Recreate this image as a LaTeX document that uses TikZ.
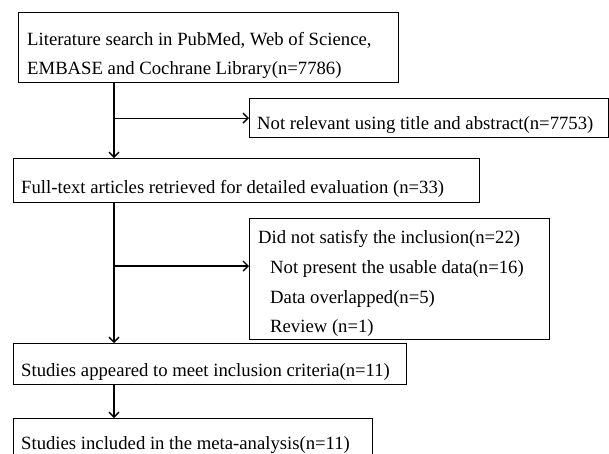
\documentclass[tikz,border=0pt]{standalone}
\usepackage{fontspec}
\setmainfont{Liberation Serif}
\usetikzlibrary{arrows.meta}

\tikzset{
  box/.style={draw, line width=1.4pt, rectangle, anchor=north west, inner sep=0pt},
  txt/.style={anchor=base west, inner sep=0pt, font=\fontsize{18.7}{22}\selectfont},
  flow/.style={line width=1.4pt, -{Straight Barb[length=5pt,width=10pt,line width=1.4pt]}}
}

\begin{document}
\begin{tikzpicture}[x=1pt,y=1pt,yscale=-1,xscale=1]
  \useasboundingbox (0,0) rectangle (609,453);

  %Shape: Rectangle (search)
  \node [box, minimum width=380pt, minimum height=70pt] (search) at (18,12) {};
  %Shape: Rectangle (not relevant)
  \node [box, minimum width=359pt, minimum height=39pt] (notrel) at (249,98) {};
  %Shape: Rectangle (full text)
  \node [box, minimum width=466pt, minimum height=44pt] (fulltext) at (13,158) {};
  %Shape: Rectangle (excluded)
  \node [box, minimum width=300pt, minimum height=121pt] (excl) at (249,218) {};
  %Shape: Rectangle (studies)
  \node [box, minimum width=393pt, minimum height=41pt] (studies) at (13,343) {};
  %Shape: Rectangle (included)
  \node [box, minimum width=359pt, minimum height=42pt] (included) at (13,418) {};

  % Text Node
  \node [txt] (searchA) at (27,45) {Literature search in PubMed, Web of Science,};
  % Text Node
  \node [txt] (searchB) at (27,74) {EMBASE and Cochrane Library(n=7786)};
  % Text Node
  \node [txt] (notrelT) at (257,129) {Not relevant using title and abstract(n=7753)};
  % Text Node
  \node [txt] (fulltextT) at (21,193) {Full-text articles retrieved for detailed evaluation (n=33)};
  % Text Node
  \node [txt] (exclA) at (258,243) {Did not satisfy the inclusion(n=22)};
  % Text Node
  \node [txt] (exclB) at (270,273) {Not present the usable data(n=16)};
  % Text Node
  \node [txt] (exclC) at (270,303) {Data overlapped(n=5)};
  % Text Node
  \node [txt] (exclD) at (270,332) {Review (n=1)};
  % Text Node
  \node [txt] (studiesT) at (21,376) {Studies appeared to meet inclusion criteria(n=11)};
  % Text Node
  \node [txt] (includedT) at (21,449) {Studies included in the meta-analysis(n=11)};

  %Straight Lines
  \coordinate (trunk) at (114,0);
  \coordinate (split) at (114,266);
  \draw [flow] (search.south -| trunk) -- (fulltext.north -| trunk);
  \draw [flow] (notrel.west -| trunk) -- (notrel.west);
  \draw [flow] (fulltext.south -| trunk) -- (studies.north -| trunk);
  \draw [flow] (split) -- (split -| excl.west);
  \draw [flow] (studies.south -| trunk) -- (included.north -| trunk);
\end{tikzpicture}
\end{document}
